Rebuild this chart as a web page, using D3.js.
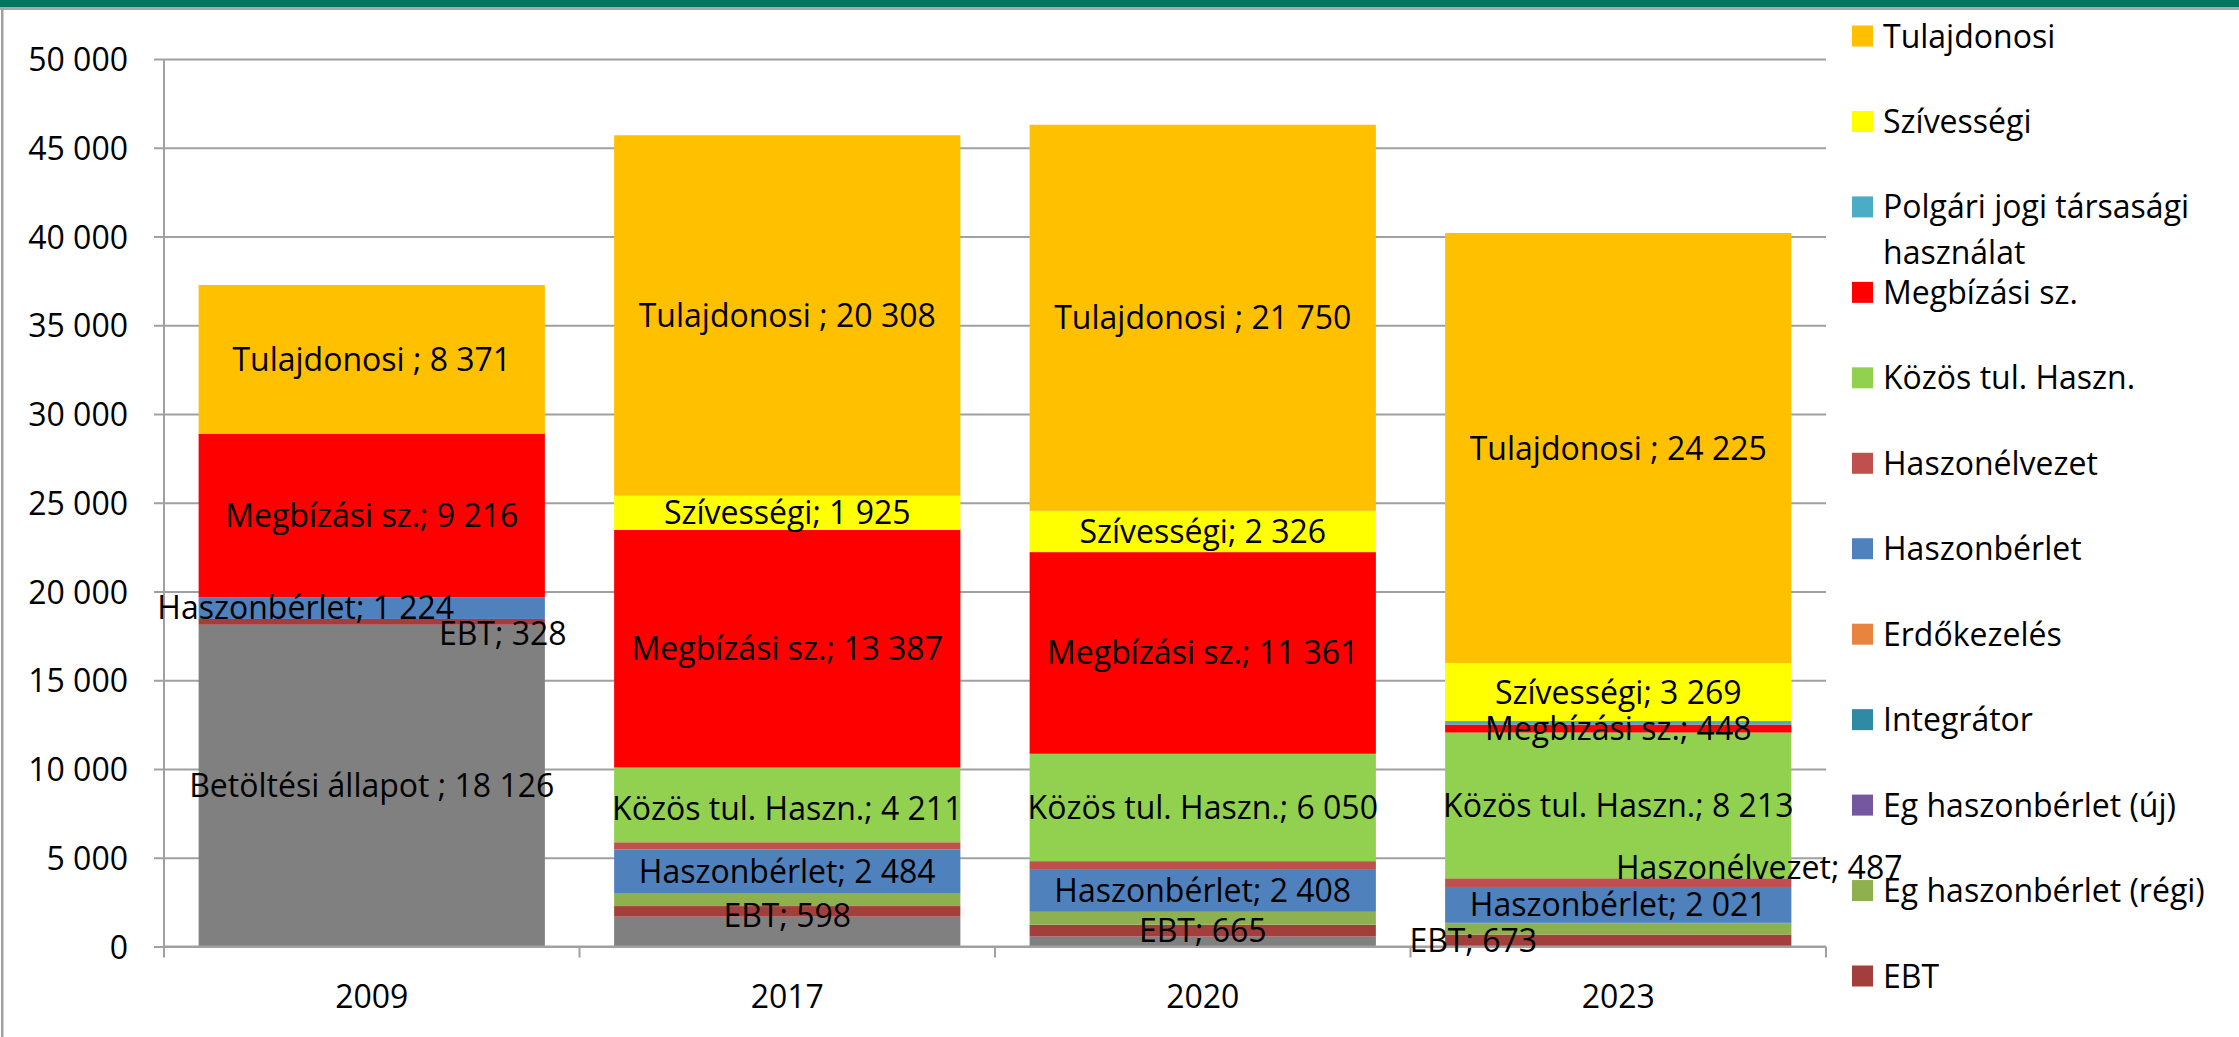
<!DOCTYPE html>
<html>
<head>
<meta charset="utf-8">
<script src="https://cdn.jsdelivr.net/npm/d3@7"></script>
<style>
body{margin:0;background:#fff;}
svg{display:block;}
text{font-family:"Open Sans",sans-serif;fill:#000;}
</style>
</head>
<body>
<svg id="chart" width="2239" height="1037"></svg>
<script>
// data, bottom of the stack first
var years=["2009","2017","2020","2023"];
var betoltesi=[18126,1680,560,0];
var ebt=[328,598,665,673];
var egRegi=[0,700,730,600];
var egUj=[0,0,0,0];
var integrator=[0,0,0,0];
var erdokezeles=[0,0,0,60];
var haszonberlet=[1224,2484,2408,2021];
var haszonelvezet=[0,410,445,487];
var kozos=[0,4211,6050,8213];
var megbizasi=[9216,13387,11361,448];
var polgari=[0,0,0,200];
var szivessegi=[0,1925,2326,3269];
var tulajdonosi=[8371,20308,21750,24225];

var seriesNames=["Betöltési állapot","EBT","Eg haszonbérlet (régi)","Eg haszonbérlet (új)","Integrátor","Erdőkezelés","Haszonbérlet","Haszonélvezet","Közös tul. Haszn.","Megbízási sz.","Polgári jogi társasági használat","Szívességi","Tulajdonosi"];
var seriesValues=[betoltesi,ebt,egRegi,egUj,integrator,erdokezeles,haszonberlet,haszonelvezet,kozos,megbizasi,polgari,szivessegi,tulajdonosi];
var yTicks=[0,5000,10000,15000,20000,25000,30000,35000,40000,45000,50000];

// which segments carry a data label
var labelled=[
 "Betöltési állapot|2009","EBT|2009","Haszonbérlet|2009","Megbízási sz.|2009","Tulajdonosi|2009",
 "EBT|2017","Haszonbérlet|2017","Közös tul. Haszn.|2017","Megbízási sz.|2017","Szívességi|2017","Tulajdonosi|2017",
 "EBT|2020","Haszonbérlet|2020","Közös tul. Haszn.|2020","Megbízási sz.|2020","Szívességi|2020","Tulajdonosi|2020",
 "EBT|2023","Haszonbérlet|2023","Haszonélvezet|2023","Közös tul. Haszn.|2023","Megbízási sz.|2023","Szívességi|2023","Tulajdonosi|2023"
];

// styles
var colors=["#808080","#A23F3D","#8FB04F","#7457A0","#2F8BA3","#E8843E","#4F81BD","#C0504D","#92D050","#FF0000","#4BACC6","#FFFF00","#FFC000"];
var wideSep={"Betöltési állapot":1,"Tulajdonosi":1};
// manually moved labels (px)
var labelNudge={"Haszonbérlet|2009":[-66,-1],"EBT|2009":[131,12],"EBT|2017":[0,4],"Közös tul. Haszn.|2017":[0,4],
  "Haszonélvezet|2023":[141,-15],"EBT|2023":[-145,0]};

var svg=d3.select("#chart");
var fmt=d3.formatLocale({decimal:",",thousands:"\u00a0",grouping:[3],currency:["",""]}).format(",d");
var gridColor="#A0A0A0";

// frame
svg.append("rect").attr("x",0).attr("y",0).attr("width",2239).attr("height",7).attr("fill","#00785F");
svg.append("rect").attr("x",0).attr("y",7).attr("width",2239).attr("height",3).attr("fill","#A8A8A8");
svg.append("rect").attr("x",1).attr("y",8).attr("width",2.5).attr("height",1029).attr("fill","#A0A0A0");

var left=164,right=1826;
var y=d3.scaleLinear().domain([0,50000]).range([946.5,59]);
var x=d3.scaleBand().domain(years).range([left,right]).paddingInner(1/6).paddingOuter(1/12);

// gridlines
var grid=svg.append("g").attr("transform","translate("+left+",0)")
  .call(d3.axisLeft(y).tickValues(yTicks).tickSize(-(right-left)).tickFormat(""));
grid.select(".domain").remove();
grid.selectAll("line").attr("stroke",gridColor).attr("stroke-width",2);

// y axis
var yAxis=svg.append("g").attr("transform","translate("+left+",0)")
  .call(d3.axisLeft(y).tickValues(yTicks).tickSize(10).tickSizeOuter(0).tickPadding(26).tickFormat(fmt));
yAxis.select(".domain").remove();
yAxis.selectAll("line").attr("stroke",gridColor).attr("stroke-width",2);
yAxis.selectAll("text").style("font-size","32px").attr("dy","0.36em");
svg.append("line").attr("x1",left).attr("x2",left).attr("y1",y(50000)).attr("y2",y(0)+11)
  .attr("stroke",gridColor).attr("stroke-width",2);

// category boundaries
var bounds=years.map(function(d){return x(d)-x.step()*x.paddingInner()/2;}).concat([right]);
svg.selectAll("line.cat").data(bounds.slice(1)).enter().append("line")
  .attr("x1",function(d){return d;}).attr("x2",function(d){return d;})
  .attr("y1",y(0)).attr("y2",y(0)+11).attr("stroke",gridColor).attr("stroke-width",2);

// stacked bars
var rows=years.map(function(yr,i){
  var o={year:yr};
  seriesNames.forEach(function(n,k){o[n]=seriesValues[k][i];});
  return o;
});
var stacked=d3.stack().keys(seriesNames)(rows);

var layers=svg.append("g").selectAll("g").data(stacked).enter().append("g")
  .attr("fill",function(d,i){return colors[i];});
layers.selectAll("rect").data(function(d){return d.filter(function(s){return s[1]>s[0];});}).enter().append("rect")
  .attr("x",function(d){return x(d.data.year);})
  .attr("y",function(d){return y(d[1]);})
  .attr("width",x.bandwidth())
  .attr("height",function(d){return y(d[0])-y(d[1]);});

// x axis line and labels
svg.append("line").attr("x1",left).attr("x2",right).attr("y1",y(0)).attr("y2",y(0))
  .attr("stroke",gridColor).attr("stroke-width",2);
var xAxis=svg.append("g").attr("transform","translate(0,"+y(0)+")")
  .call(d3.axisBottom(x).tickSize(0));
xAxis.select(".domain").remove();
xAxis.selectAll("text").style("font-size","32px").attr("y",50).attr("dy","0.36em");

// data labels
var labels=[];
stacked.forEach(function(layer){
  layer.forEach(function(s){
    var key=layer.key+"|"+s.data.year;
    if(labelled.indexOf(key)<0) return;
    var n=labelNudge[key]||[0,0];
    labels.push({
      text:layer.key+(wideSep[layer.key]?" ; ":"; ")+fmt(s.data[layer.key]),
      x:x(s.data.year)+x.bandwidth()/2+n[0],
      y:(y(s[0])+y(s[1]))/2+n[1]
    });
  });
});
svg.append("g").selectAll("text").data(labels).enter().append("text")
  .attr("x",function(d){return d.x;}).attr("y",function(d){return d.y;})
  .attr("dy","0.36em").attr("text-anchor","middle").style("font-size","32px")
  .text(function(d){return d.text;});

// legend
var legendItems=seriesNames.slice(1).reverse();
var ly=d3.scaleLinear().domain([0,legendItems.length-1]).range([36,976]);
var legend=svg.append("g").selectAll("g").data(legendItems).enter().append("g")
  .attr("transform",function(d,i){return "translate(1852,"+ly(i)+")";});
legend.append("rect").attr("x",0).attr("y",-10.5).attr("width",21).attr("height",21)
  .attr("fill",function(d){return colors[seriesNames.indexOf(d)];});
legend.each(function(d){
  var t=d3.select(this).append("text").attr("x",31).attr("y",0).attr("dy","0.36em").style("font-size","32px");
  var words=d.split(" "),line=[],ts=t.append("tspan").attr("x",31);
  words.forEach(function(w){
    line.push(w);
    ts.text(line.join(" "));
    if(ts.node().getComputedTextLength()>345 && line.length>1){
      line.pop();ts.text(line.join(" "));
      line=[w];
      ts=t.append("tspan").attr("x",31).attr("dy",46).text(w);
    }
  });
});
</script>
</body>
</html>
